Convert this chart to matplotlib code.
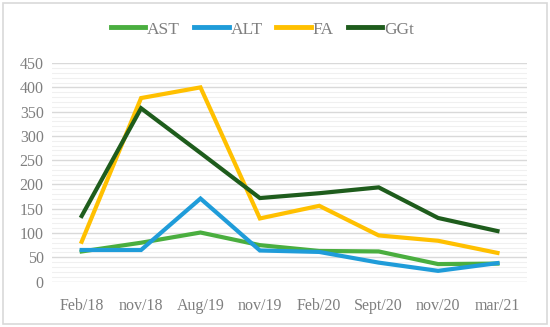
import matplotlib
matplotlib.use('Agg')
import matplotlib.pyplot as plt
from matplotlib.patches import Rectangle
from matplotlib.ticker import MultipleLocator

dates = ['Feb/18', 'nov/18', 'Aug/19', 'nov/19', 'Feb/20', 'Sept/20', 'nov/20', 'mar/21']
ast = [62, 80, 101, 75, 63, 62, 36, 37]
alt = [65, 65, 171, 64, 61, 39, 22, 38]
fa = [82, 378, 400, 130, 156, 95, 84, 59]
ggt = [135, 357, 265, 172, 182, 194, 131, 104]

series = [('AST', ast, '#4aae3f'), ('ALT', alt, '#1f9cd9'),
          ('FA', fa, '#ffc000'), ('GGt', ggt, '#1e5c1c')]

plt.rcParams['font.family'] = ['Liberation Serif', 'DejaVu Serif']

fig = plt.figure(figsize=(5.5, 3.27), dpi=100)
ax = fig.add_axes([0.0945, 0.139, 0.864, 0.668])

x = list(range(len(dates)))
for name, vals, col in series:
    ax.plot(x, vals, color=col, lw=3.0, label=name, solid_joinstyle='miter')

ax.set_xlim(-0.5, len(dates) - 0.5)
ax.set_ylim(0, 450)
ax.yaxis.set_major_locator(MultipleLocator(50))
ax.yaxis.set_minor_locator(MultipleLocator(10))
ax.grid(True, which='major', axis='y', color='#d9d9d9', lw=1.0)
ax.grid(True, which='minor', axis='y', color='#f0f0f0', lw=0.8)
ax.set_axisbelow(True)
ax.set_xticks(x)
ax.set_xticklabels(dates)
for s in ax.spines.values():
    s.set_visible(False)
ax.tick_params(which='both', length=0, colors='#7f7f7f', labelsize=11.5)
ax.tick_params(axis='x', pad=12)
ax.tick_params(axis='y', pad=6)

leg = fig.legend(loc='center', bbox_to_anchor=(0.477, 0.91), ncol=4, frameon=False,
                 fontsize=12.5, handlelength=2.0, handletextpad=0.1, columnspacing=0.8,
                 labelcolor='#7f7f7f')
for h in leg.get_lines():
    h.set_linewidth(3.5)

fig.patches.append(Rectangle((0.006, 0.01), 0.988, 0.98, transform=fig.transFigure,
                             fill=False, edgecolor='#d9d9d9', lw=1.2))

fig.savefig('out.png', dpi=100)
